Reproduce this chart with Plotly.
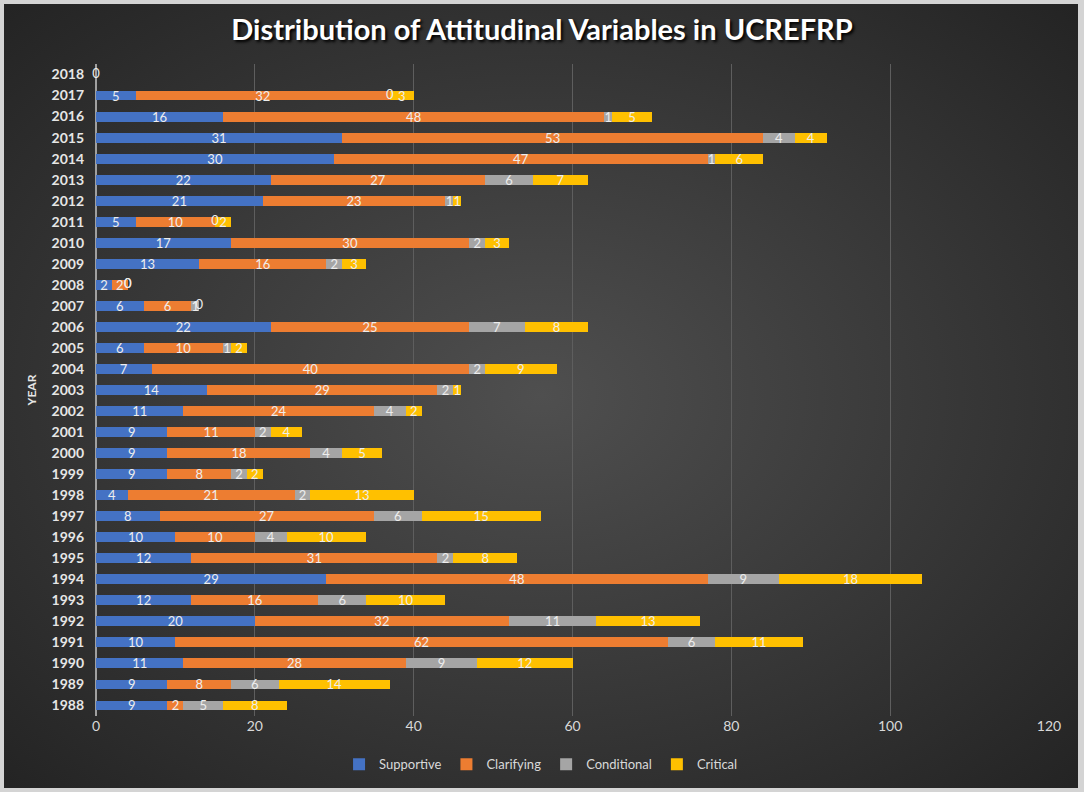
import plotly.graph_objects as go

years = [str(y) for y in range(1988, 2019)]
# values listed from 1988 to 2018
supportive = [9, 9, 11, 10, 20, 12, 29, 12, 10, 8, 4, 9, 9, 9, 11, 14, 7, 6, 22, 6, 2, 13, 17, 5, 21, 22, 30, 31, 16, 5, 0]
clarifying = [2, 8, 28, 62, 32, 16, 48, 31, 10, 27, 21, 8, 18, 11, 24, 29, 40, 10, 25, 6, 2, 16, 30, 10, 23, 27, 47, 53, 48, 32, None]
conditional = [5, 6, 9, 6, 11, 6, 9, 2, 4, 6, 2, 2, 4, 2, 4, 2, 2, 1, 7, 1, 0, 2, 2, 0, 1, 6, 1, 4, 1, 0, None]
critical = [8, 14, 12, 11, 13, 10, 18, 8, 10, 15, 13, 2, 5, 4, 2, 1, 9, 2, 8, 0, 0, 3, 3, 2, 1, 7, 6, 4, 5, 3, None]

series = [
    ("Supportive", supportive, "#4472C4"),
    ("Clarifying", clarifying, "#ED7D31"),
    ("Conditional", conditional, "#A5A5A5"),
    ("Critical", critical, "#FFC000"),
]
x_ticks = [0, 20, 40, 60, 80, 100, 120]

FONT = "Lato, 'Open Sans', sans-serif"
LABEL_COLOR = "#EDEDED"

fig = go.Figure()
for name, vals, color in series:
    fig.add_trace(go.Bar(
        y=years, x=vals, name=name, orientation="h",
        marker=dict(color=color, line=dict(width=0)),
        text=["" if v is None else str(v) for v in vals],
        textposition="inside", insidetextanchor="middle", textangle=0,
        textfont=dict(color=LABEL_COLOR, size=13, family=FONT),
        cliponaxis=False,
    ))

# labels for zero-valued segments (bars of zero length carry no inside text)
zx, zy, zt = [], [], []
for i, yr in enumerate(years):
    base = 0
    for _, vals, _ in series:
        v = vals[i]
        if v is None:
            continue
        if v == 0:
            zx.append(base)
            zy.append(yr)
            zt.append("0")
        base += v
fig.add_trace(go.Scatter(
    x=zx, y=zy, text=zt, mode="text", showlegend=False, hoverinfo="skip",
    textfont=dict(color=LABEL_COLOR, size=13, family=FONT), cliponaxis=False,
))

bg_svg = (
    "data:image/svg+xml;utf8,"
    "<svg xmlns='http://www.w3.org/2000/svg' width='1074' height='784'>"
    "<defs><radialGradient id='g' cx='50%' cy='50%' r='70%'>"
    "<stop offset='0%' stop-color='%234f4f4f'/>"
    "<stop offset='100%' stop-color='%23242424'/>"
    "</radialGradient></defs>"
    "<rect width='1074' height='784' fill='url(%23g)'/></svg>"
)

fig.update_layout(
    width=1084, height=792,
    barmode="stack", bargap=0.53,
    paper_bgcolor="#D4D4D4", plot_bgcolor="rgba(0,0,0,0)",
    margin=dict(l=96, r=35, t=64, b=76, autoexpand=False),
    font=dict(family=FONT, color="#D9D9D9", size=12),
    title=dict(
        text="<b>Distribution of Attitudinal Variables in UCREFRP</b>",
        x=0.5, xanchor="center", y=0.962, yanchor="middle",
        font=dict(size=29, color="#FFFFFF", family=FONT, shadow="2px 2px 3px #000000"),
    ),
    uniformtext=dict(minsize=13, mode="show"),
    showlegend=True,
    legend=dict(
        orientation="h", x=0.467, xanchor="center", y=-0.074, yanchor="middle",
        font=dict(size=13, color="#D9D9D9", family=FONT),
        itemwidth=30, traceorder="normal", bgcolor="rgba(0,0,0,0)",
    ),
    images=[dict(source=bg_svg, xref="paper", yref="paper", x=-0.09654, y=1.09202,
                 sizex=1.12697, sizey=1.20245, sizing="stretch", layer="below",
                 xanchor="left", yanchor="top")],
)

fig.update_xaxes(
    range=[0, 120], tickvals=x_ticks, showgrid=True, gridcolor="#5E5E5E", gridwidth=1,
    zeroline=True, zerolinecolor="#A0A0A0", zerolinewidth=2, automargin=False,
    ticks="", tickfont=dict(size=14, color="#D9D9D9"), showline=False,
)
fig.update_yaxes(
    type="category", range=[-0.5, 30.5], showgrid=False, ticks="", showline=False,
    automargin=False, ticklabelstandoff=11,
    tickfont=dict(size=14, color="#E6E6E6", family=FONT, weight="bold"),
    title=dict(text="<b>YEAR</b>", font=dict(size=12, color="#E6E6E6"), standoff=12),
)

fig.write_html("out.html", config={"displayModeBar": False},
               post_script="document.body.style.margin='0';")
